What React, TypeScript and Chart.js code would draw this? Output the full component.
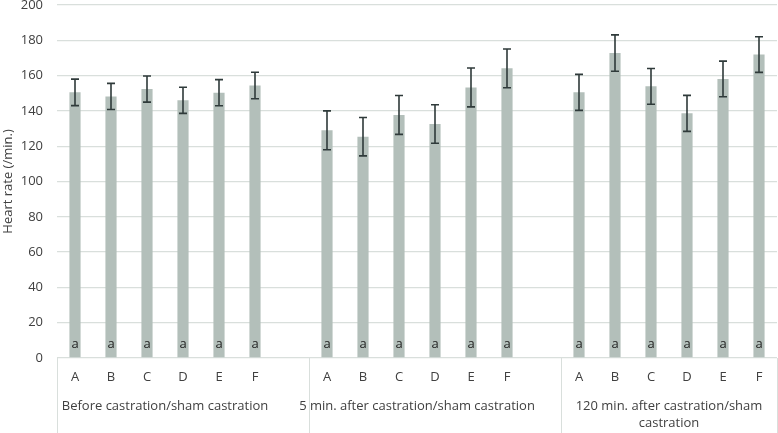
import React, { useEffect, useRef } from "react";
import { Chart, registerables } from "chart.js";

Chart.register(...registerables);

const subLabels = ["A", "B", "C", "D", "E", "F"];
const groupNames: string[][] = [
  ["Before castration/sham castration"],
  ["5 min. after castration/sham castration"],
  ["120 min. after castration/sham", "castration"],
];
const beforeMeans = [150.5, 148.2, 152.4, 146.0, 150.3, 154.4];
const beforeErr = [7.5, 7.4, 7.4, 7.4, 7.4, 7.5];
const min5Means = [129.0, 125.4, 137.7, 132.6, 153.3, 164.1];
const min5Err = [11.0, 10.9, 11.0, 10.9, 11.0, 11.0];
const min120Means = [150.5, 172.8, 153.9, 138.6, 158.1, 171.9];
const min120Err = [10.2, 10.3, 10.1, 10.2, 10.1, 10.1];
const letters = ["a", "a", "a", "a", "a", "a"];
const yTicks = { min: 0, max: 200, step: 20 };

const FONT = "'Open Sans', 'DejaVu Sans', sans-serif";
const TXT = "#404040";
const GRID = "#d9dfdc";

// build 20 slots: 6 + blank + 6 + blank + 6
const labels: string[] = [];
const values: (number | null)[] = [];
const errs: (number | null)[] = [];
const marks: (string | null)[] = [];
const groupsData = [
  [beforeMeans, beforeErr],
  [min5Means, min5Err],
  [min120Means, min120Err],
];
groupsData.forEach(([m, e], gi) => {
  subLabels.forEach((s, i) => {
    labels.push(s);
    values.push(m[i]);
    errs.push(e[i]);
    marks.push(letters[i]);
  });
  if (gi < groupsData.length - 1) {
    labels.push("");
    values.push(null);
    errs.push(null);
    marks.push(null);
  }
});

const overlay = {
  id: "overlay",
  afterDatasetsDraw(chart: any) {
    const ctx = chart.ctx;
    const x = chart.scales.x;
    const y = chart.scales.y;
    const meta = chart.getDatasetMeta(0);
    ctx.save();
    // error bars
    ctx.strokeStyle = "#2f3a3a";
    ctx.lineWidth = 1.6;
    meta.data.forEach((bar: any, i: number) => {
      const v = values[i];
      const e = errs[i];
      if (v == null || e == null) return;
      const cx = bar.x;
      const top = y.getPixelForValue(v + e);
      const bot = y.getPixelForValue(v - e);
      ctx.beginPath();
      ctx.moveTo(cx, top);
      ctx.lineTo(cx, bot);
      ctx.moveTo(cx - 4, top);
      ctx.lineTo(cx + 4, top);
      ctx.moveTo(cx - 4, bot);
      ctx.lineTo(cx + 4, bot);
      ctx.stroke();
    });
    // letters
    ctx.fillStyle = "#222";
    ctx.font = `13px ${FONT}`;
    ctx.textAlign = "center";
    ctx.textBaseline = "middle";
    meta.data.forEach((bar: any, i: number) => {
      const m = marks[i];
      if (!m) return;
      ctx.fillText(m, bar.x, y.bottom - 14);
    });
    // separators
    const area = chart.chartArea;
    const slot = (x.getPixelForValue(1) - x.getPixelForValue(0));
    ctx.strokeStyle = GRID;
    ctx.lineWidth = 1;
    const bounds = [0, 7, 14, 20];
    bounds.forEach((b) => {
      const px = Math.round(x.getPixelForValue(0) - slot / 2 + b * slot) + 0.5;
      ctx.beginPath();
      ctx.moveTo(px, area.bottom);
      ctx.lineTo(px, chart.height);
      ctx.stroke();
    });
    // group labels
    ctx.fillStyle = TXT;
    ctx.font = `13px ${FONT}`;
    groupNames.forEach((lines, gi) => {
      const start = gi * 7;
      const cx = (x.getPixelForValue(start) + x.getPixelForValue(start + 5)) / 2;
      lines.forEach((ln, li) => {
        ctx.fillText(ln, cx, area.bottom + 48 + li * 17);
      });
    });
    ctx.restore();
  },
};

export default function App() {
  const ref = useRef<HTMLCanvasElement>(null);
  useEffect(() => {
    document.body.style.margin = "0";
    const chart = new Chart(ref.current!, {
      type: "bar",
      data: {
        labels,
        datasets: [
          {
            data: values as any,
            backgroundColor: "#b3bfba",
            barPercentage: 0.62,
            categoryPercentage: 0.5,
          },
        ],
      },
      options: {
        animation: false,
        responsive: false,
        maintainAspectRatio: false,
        layout: { padding: { top: 5, right: 1, left: 0, bottom: 0 } },
        plugins: { legend: { display: false }, tooltip: { enabled: false } },
        scales: {
          x: {
            grid: { display: false, drawTicks: false },
            border: { display: false },
            ticks: {
              color: TXT,
              font: { family: FONT, size: 13 },
              padding: 11,
              autoSkip: false,
              maxRotation: 0,
            },
            afterFit: (s: any) => {
              s.height = 75;
            },
          },
          y: {
            min: yTicks.min,
            max: yTicks.max,
            ticks: {
              stepSize: yTicks.step,
              color: TXT,
              font: { family: FONT, size: 13 },
              padding: 14,
            },
            grid: { color: GRID, lineWidth: 1.3, drawTicks: false },
            border: { display: false },
            title: {
              display: true,
              text: "Heart rate (/min.)",
              color: TXT,
              font: { family: FONT, size: 13 },
              padding: { top: 0, bottom: 2 },
            },
            afterFit: (s: any) => {
              s.width = 57;
              s.paddingTop = 0;
              s.paddingBottom = 0;
            },
          },
        },
      },
      plugins: [overlay],
    });
    return () => chart.destroy();
  }, []);
  return (
    <div style={{ width: 778, height: 433 }}>
      <canvas ref={ref} width={778} height={433} style={{ display: "block" }} />
    </div>
  );
}
